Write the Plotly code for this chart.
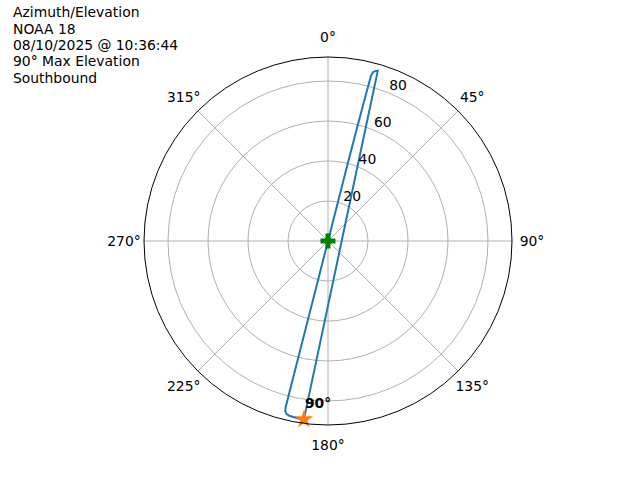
import plotly.graph_objects as go

# ---- data ----
title_lines = ["Azimuth/Elevation", "NOAA 18", "08/10/2025 @ 10:36:44",
               "90° Max Elevation", "Southbound"]

# pass track: azimuth (deg) and elevation (deg, plotted as radius)
track_az = [14.3, 14.3, 14.3, 14.4, 14.5, 14.6, 15.0, 15.8, 16.3,
            187.7, 190.0, 192.5, 193.4, 194.0, 194.3, 194.3, 194.3, 194.3]
track_el = [0.0, 20.0, 40.0, 60.0, 75.0, 85.5, 87.6, 88.4, 88.7,
            90.0, 89.9, 89.5, 89.0, 88.0, 86.0, 60.0, 30.0, 0.0]

start_az = [14.3]
start_el = [0.0]
max_az = [187.7]
max_el = [90.0]
max_label = ["90°"]

theta_ticks = [0, 45, 90, 135, 180, 225, 270, 315]
theta_labels = ["0°", "45°", "90°", "135°", "180°", "225°", "270°", "315°"]
r_ticks = [20, 40, 60, 80]
r_tick_labels = ["20", "40", "60", "80"]
r_max = 92

FONT = "DejaVu Sans"
FS = 13.9
LABEL_LIFT = 4      # radial lift of the max-elevation label (style)
RLABEL_POS = 22.5   # angle at which radial tick labels sit (matplotlib default)

fig = go.Figure()
fig.add_trace(go.Scatterpolar(r=track_el, theta=track_az, mode="lines",
                              line=dict(color="#1f77b4", width=2),
                              hoverinfo="skip"))
fig.add_trace(go.Scatterpolar(r=start_el, theta=start_az, mode="markers",
                              marker=dict(symbol="cross", size=12.5, color="green",
                                          line=dict(width=0))))
fig.add_trace(go.Scatterpolar(r=max_el, theta=max_az, mode="markers",
                              marker=dict(symbol="star", size=14, color="#ff7f0e",
                                          line=dict(width=0))))
fig.add_trace(go.Scatterpolar(r=[v - LABEL_LIFT for v in max_el], theta=max_az,
                              mode="text", text=max_label, textposition="top right",
                              textfont=dict(family=FONT, size=FS, color="black",
                                            weight="bold")))
# radial tick labels, placed like matplotlib's (at 22.5 deg, horizontal)
fig.add_trace(go.Scatterpolar(r=r_ticks, theta=[RLABEL_POS] * len(r_ticks),
                              mode="text", text=r_tick_labels, textposition="top right",
                              textfont=dict(family=FONT, size=FS, color="black"),
                              hoverinfo="skip"))
# angle tick labels: centred on the rim of a slightly larger, invisible polar frame
fig.add_trace(go.Scatterpolar(r=[1] * len(theta_ticks), theta=theta_ticks,
                              mode="text", text=theta_labels, textposition="middle center",
                              textfont=dict(family=FONT, size=FS, color="black"),
                              cliponaxis=False, hoverinfo="skip", subplot="polar2"))

cx, cy, R = 328, 241, 184
R_LAB = 204        # radius (px) of the ring on which angle labels are centred
LAB_DROP = 2       # small vertical nudge of the label ring (px)
W, H = 640, 480


def dom(rad, dy=0):
    return dict(x=[(cx - rad) / W, (cx + rad) / W],
                y=[1 - (cy + dy + rad) / H, 1 - (cy + dy - rad) / H])


fig.update_layout(
    width=W, height=H, margin=dict(l=0, r=0, t=0, b=0),
    paper_bgcolor="white", showlegend=False,
    font=dict(family=FONT, size=FS, color="black"),
    polar=dict(
        domain=dom(R),
        bgcolor="white",
        angularaxis=dict(rotation=90, direction="clockwise",
                         tickmode="array", tickvals=theta_ticks,
                         showticklabels=False, ticks="",
                         gridcolor="#b0b0b0", gridwidth=0.8,
                         showline=True, linecolor="black", linewidth=1),
        radialaxis=dict(range=[0, r_max], tickmode="array", tickvals=r_ticks,
                        showline=False, gridcolor="#b0b0b0", gridwidth=0.8,
                        showticklabels=False, ticks=""),
    ),
    polar2=dict(
        domain=dom(R_LAB, LAB_DROP),
        bgcolor="rgba(0,0,0,0)",
        angularaxis=dict(rotation=90, direction="clockwise", showgrid=False,
                         showline=False, showticklabels=False, ticks=""),
        radialaxis=dict(range=[0, 1], showgrid=False, showline=False,
                        showticklabels=False, ticks=""),
    ),
)

for i, line in enumerate(title_lines):
    fig.add_annotation(text=line, xref="paper", yref="paper",
                       x=(13 - 2) / W, y=1 - (12.3 + 16.3 * i) / H,
                       xanchor="left", yanchor="middle", showarrow=False,
                       font=dict(family=FONT, size=FS, color="black"))

fig.write_html("out.html",
               config={"displayModeBar": False},
               post_script="document.body.style.margin='0';")
